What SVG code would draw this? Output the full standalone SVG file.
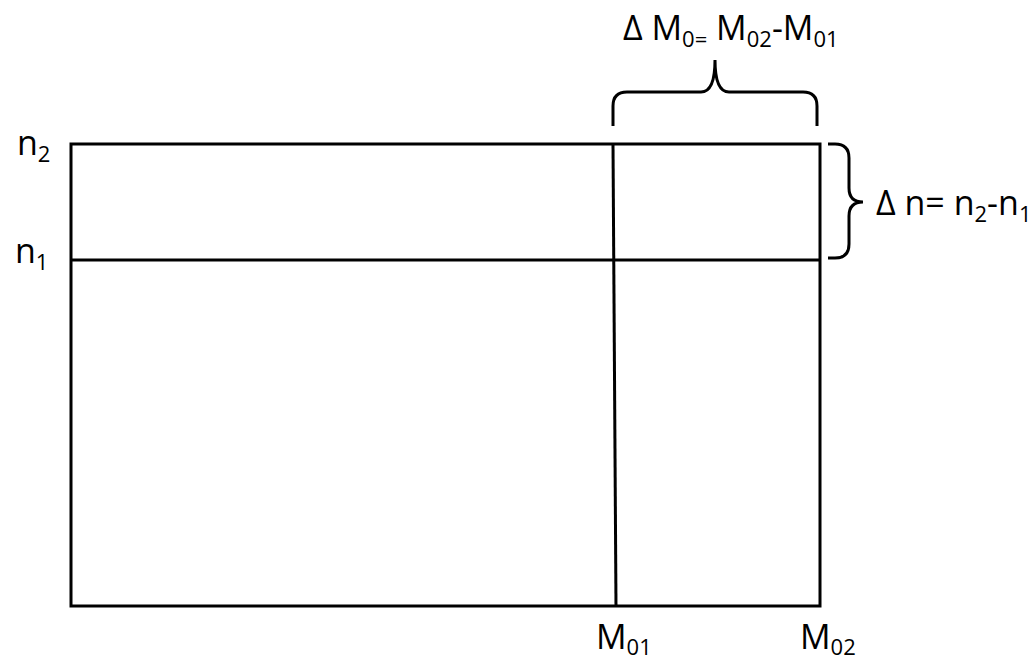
<svg xmlns="http://www.w3.org/2000/svg" width="1036" height="663" viewBox="0 0 1036 663">
<style>
.ln{stroke:#000;stroke-width:3;fill:none}
.br{stroke:#000;stroke-width:3;fill:none;stroke-linecap:butt}
text{font-family:"Open Sans","Liberation Sans",sans-serif;font-size:34px;fill:#000}
.s{font-size:22px}
</style>
<rect width="1036" height="663" fill="#fff"/>
<g id="grid">
<rect class="ln" x="71" y="144" width="749" height="462"/>
<line class="ln" x1="71" y1="260" x2="820" y2="260"/>
<line class="ln" x1="613" y1="144" x2="616" y2="606"/>
</g>
<g id="brace-top">
<path class="br" d="M613,126 L613,106 Q613,92 627,92 L701,92 Q715,92 715,60 Q715,92 729,92 L803,92 Q817,92 817,106 L817,126"/>
</g>
<g id="brace-right">
<path class="br" d="M828,144 L835,144 Q849,144 849,158 L849,188 Q849,202 863,202 Q849,202 849,216 L849,244 Q849,258 835,258 L828,258"/>
</g>
<g id="labels">
<text x="623" y="40">Δ M<tspan class="s" dy="7">0=</tspan><tspan dy="-7"> M</tspan><tspan class="s" dy="7">02</tspan><tspan dy="-7">-M</tspan><tspan class="s" dy="7">01</tspan></text>
<text x="876" y="215">Δ n= n<tspan class="s" dy="7">2</tspan><tspan dy="-7">-n</tspan><tspan class="s" dy="7">1</tspan></text>
<text x="17" y="155">n<tspan class="s" dy="7">2</tspan></text>
<text x="15" y="263">n<tspan class="s" dy="7">1</tspan></text>
<text x="596" y="649">M<tspan class="s" dy="6">01</tspan></text>
<text x="800" y="649">M<tspan class="s" dy="6">02</tspan></text>
</g>
</svg>
